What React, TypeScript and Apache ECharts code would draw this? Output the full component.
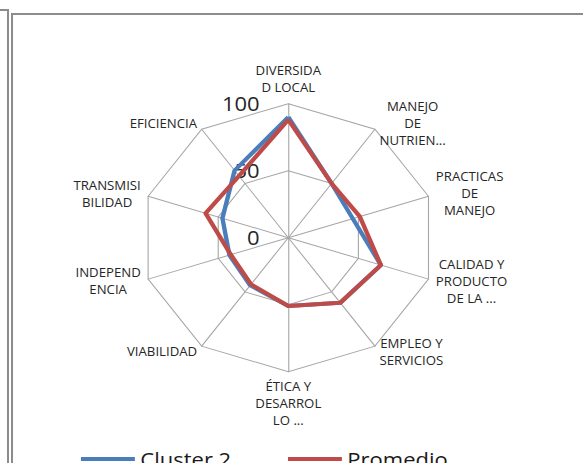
import React, { useEffect, useRef } from "react";
import * as echarts from "echarts";

const categories = [
  "DIVERSIDA\nD LOCAL",
  "MANEJO\nDE\nNUTRIEN...",
  "PRACTICAS\nDE\nMANEJO",
  "CALIDAD Y\nPRODUCTO\nDE LA ...",
  "EMPLEO Y\nSERVICIOS",
  "ÉTICA Y\nDESARROL\nLO ...",
  "VIABILIDAD",
  "INDEPEND\nENCIA",
  "TRANSMISI\nBILIDAD",
  "EFICIENCIA",
];
const seriesNames = ["Cluster 2", "Promedio"];
const cluster2 = [90, 50, 46, 66, 60, 51, 44, 42, 47, 62];
const promedio = [88, 50, 51, 66, 60, 51, 43, 41, 59, 57];
const axisMin = 0;
const axisMax = 100;
const axisSplits = 2;

const FONT = "'Open Sans', 'Noto Sans', sans-serif";
const STRETCH = 1.1;

export default function App() {
  const ref = useRef<HTMLDivElement>(null);

  useEffect(() => {
    if (!ref.current) return;
    const chart = echarts.init(ref.current, undefined, { renderer: "svg" });
    // ECharts places indicators counter-clockwise; reorder to run clockwise
    const order = [0, ...categories.map((_, i) => categories.length - 1 - i).slice(0, categories.length - 1)];
    const ind = order.map((i, k) => ({
      name: categories[i],
      min: axisMin,
      max: axisMax,
      axisLabel:
        k === 0
          ? {
              show: true,
              fontSize: 20,
              fontFamily: FONT,
              color: "#262626",
              margin: 26,
            }
          : { show: false },
    }));
    const c2 = order.map((i) => cluster2[i]);
    const pr = order.map((i) => promedio[i]);

    const legendBase = {
      top: 449,
      icon: "rect",
      itemWidth: 49,
      itemHeight: 4,
      padding: 0,
      selectedMode: false,
      textStyle: { fontSize: 20, fontFamily: FONT, color: "#1a1a1a" },
    };

    chart.setOption({
      animation: false,
      backgroundColor: "transparent",
      legend: [
        { ...legendBase, left: 73.6, data: [seriesNames[0]] },
        { ...legendBase, left: 261.8, data: [seriesNames[1]] },
      ],
      radar: {
        center: [262.1, 237.7],
        radius: 134,
        startAngle: 90,
        shape: "polygon",
        splitNumber: axisSplits,
        nameGap: 7,
        indicator: ind,
        axisName: {
          color: "#262626",
          fontSize: 12,
          fontFamily: FONT,
          formatter: (name: string) =>
            name
              .split("\n")
              .map((l) => `{c|${l}}`)
              .join("\n"),
          rich: {
            c: {
              align: "center",
              fontSize: 12,
              lineHeight: 17,
              fontFamily: FONT,
              color: "#262626",
            },
          },
        },
        axisLine: { lineStyle: { color: "#a6a6a6", width: 1 } },
        splitLine: { lineStyle: { color: "#a6a6a6", width: 1 } },
        splitArea: { show: false },
        axisTick: { show: false },
        axisLabel: { show: false },
      },
      series: [
        {
          name: seriesNames[0],
          type: "radar",
          symbol: "none",
          lineStyle: { color: "#4a7ebb", width: 4 },
          itemStyle: { color: "#4a7ebb" },
          data: [{ value: c2, name: seriesNames[0] }],
        },
        {
          name: seriesNames[1],
          type: "radar",
          symbol: "none",
          lineStyle: { color: "#be4b48", width: 4 },
          itemStyle: { color: "#be4b48" },
          data: [{ value: pr, name: seriesNames[1] }],
        },
      ],
    });
    return () => chart.dispose();
  }, []);

  const line = (s: React.CSSProperties) => (
    <div style={{ position: "absolute", background: "#8c8c8c", ...s }} />
  );

  return (
    <div
      style={{
        position: "fixed",
        left: 0,
        top: 0,
        width: 583,
        height: 463,
        overflow: "hidden",
        background: "#fff",
      }}
    >
      {line({ left: 0, top: 9, width: 9, height: 2 })}
      {line({ left: 7, top: 9, width: 2, height: 460 })}
      {line({ left: 11, top: 13, width: 2, height: 460 })}
      {line({ left: 11, top: 13, width: 600, height: 2 })}
      <div
        ref={ref}
        style={{
          position: "absolute",
          left: 0,
          top: 0,
          width: 583 / STRETCH,
          height: 463,
          transform: `scaleX(${STRETCH})`,
          transformOrigin: "0 0",
        }}
      />
    </div>
  );
}
